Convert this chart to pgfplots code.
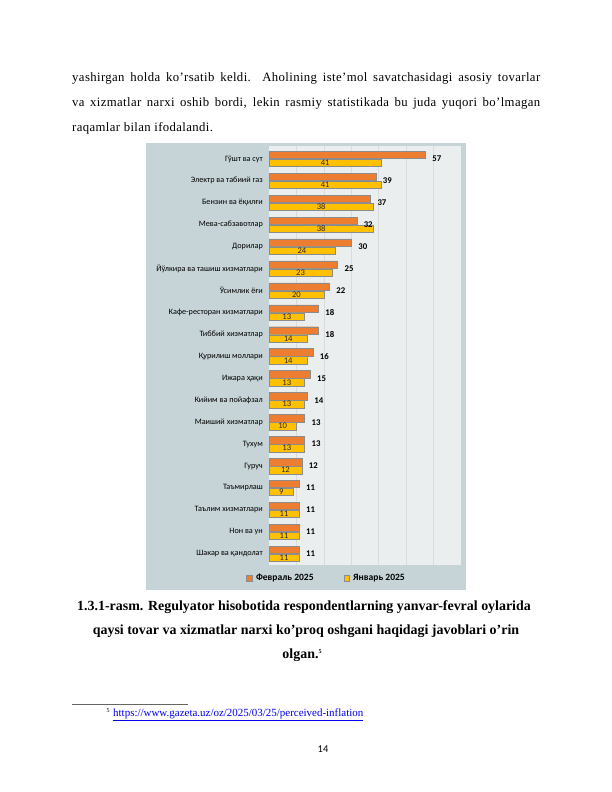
\documentclass[border=0pt]{standalone}
\usepackage{fontspec}
\setmainfont{Liberation Serif}
\newfontfamily\chartfont{Carlito}
\usepackage{pgfplots}
\pgfplotsset{compat=1.18}
\usepackage{pgfplotstable}

\definecolor{febcol}{HTML}{ED7D31}
\definecolor{jancol}{HTML}{FFC000}
\definecolor{framebg}{HTML}{C6D4D7}
\definecolor{plotbg}{HTML}{EBEEEE}
\definecolor{linkblue}{HTML}{0000EE}

% survey answers, percent of respondents
\pgfplotstableread{
idx feb jan
0   57  41
1   39  41
2   37  38
3   32  38
4   30  24
5   25  23
6   22  20
7   18  13
8   18  14
9   16  14
10  15  13
11  14  13
12  13  10
13  13  13
14  12  12
15  11  9
16  11  11
17  11  11
18  11  11
}\pricedata

\pgfplotsset{
  sq legend/.style={legend image code/.code={%
    \draw[##1, line width=0.4bp] (0bp,-2.8bp) rectangle (5.6bp,2.8bp);
    \path (7.2bp,0bp);}},
}

\newcommand\bodyfont{\fontsize{12.8}{14}\selectfont\addfontfeature{LetterSpace=3}}

\begin{document}
\begin{tikzpicture}[x=1bp,y=1bp]
\useasboundingbox (0,0) rectangle (612,792);
\fill[white] (0,0) rectangle (612,792);

% body text above the figure
\node[anchor=base west, inner sep=0, font=\bodyfont] at (72,710.3)
  {\makebox[468bp][s]{yashirgan holda ko’rsatib keldi. Aholining iste’mol savatchasidagi asosiy tovarlar}};
\node[anchor=base west, inner sep=0, font=\bodyfont] at (72,685.3)
  {\makebox[468bp][s]{va xizmatlar narxi oshib bordi, lekin rasmiy statistikada bu juda yuqori bo’lmagan}};
\node[anchor=base west, inner sep=0, font=\bodyfont] at (72,660.5)
  {raqamlar bilan ifodalandi.};

% picture frame
\fill[framebg] (146,202) rectangle (466,648.5);

\begin{axis}[
  at={(269bp,646bp)}, anchor=north west,
  scale only axis, width=192bp, height=419bp,
  xmin=0, xmax=70, ymin=-0.59, ymax=18.51,
  y dir=reverse,
  axis background/.style={fill=plotbg},
  axis line style={draw=none},
  major tick length=0pt,
  xtick={10,20,...,60}, xticklabels={},
  xmajorgrids, grid style={draw=black!14, line width=0.6bp},
  ytick={0,...,18},
  yticklabels={Гўшт ва сут, Электр ва табиий газ, Бензин ва ёқилғи, Мева-сабзавотлар, Дорилар,
    Йўлкира ва ташиш хизматлари, Ўсимлик ёғи, Кафе-ресторан хизматлари, Тиббий хизматлар,
    Қурилиш моллари, Ижара ҳақи, Кийим ва пойафзал, Маиший хизматлар, Тухум, Гуруч,
    Таъмирлаш, Таълим хизматлари, Нон ва ун, Шакар ва қандолат},
  yticklabel style={font=\chartfont\fontsize{8.2}{9}\selectfont, inner sep=0pt, xshift=-6bp},
  /pgf/number format/assume math mode=true,
  legend style={draw=none, fill=none, at={(0.3,-0.031)}, anchor=center,
    legend columns=2, font=\chartfont\bfseries\fontsize{9.6}{10}\selectfont,
    /tikz/every even column/.append style={column sep=28bp}},
]
\addplot[xbar, bar width=7.4bp, bar shift=4bp, fill=febcol, draw=black!45, line width=0.4bp,
  sq legend,
  nodes near coords,
  every node near coord/.append style={anchor=west, xshift=3.5bp, text=black,
    font=\chartfont\bfseries\fontsize{8.8}{9}\selectfont}]
  table[x=feb, y=idx] {\pricedata};
\addlegendentry{Февраль 2025}
\addplot[xbar, bar width=7.4bp, bar shift=-4bp, fill=jancol, draw=black!45, line width=0.4bp,
  sq legend]
  table[x=jan, y=idx] {\pricedata};
\addlegendentry{Январь 2025}
% labels centred on the January bars
\addplot[forget plot, draw=none, mark=none, nodes near coords, point meta=explicit,
  every node near coord/.style={anchor=center, yshift=-4bp, inner sep=0pt, text=black!85,
    font=\chartfont\fontsize{8.6}{9}\selectfont}]
  table[x expr=\thisrow{jan}/2, y=idx, meta=jan] {\pricedata};
\end{axis}

% caption
\node[anchor=base, inner sep=0, font=\bfseries\fontsize{14}{16}\selectfont] at (304,181.3)
  {1.3.1-rasm. Regulyator hisobotida respondentlarning yanvar-fevral oylarida};
\node[anchor=base, inner sep=0, font=\bfseries\fontsize{14}{16}\selectfont] at (306,157)
  {qaysi tovar va xizmatlar narxi ko’proq oshgani haqidagi javoblari o’rin};
\node[anchor=base, inner sep=0, font=\bfseries\fontsize{14}{16}\selectfont] at (302,133.7)
  {olgan.\raisebox{5bp}{\fontsize{6}{7}\selectfont 5}};

% footnote
\draw[black!60, line width=0.5bp] (72,88) -- (188,88);
\node[anchor=base west, inner sep=0, font=\fontsize{6}{7}\selectfont] at (106.5,79) {5};
\node[anchor=base west, inner sep=0, font=\fontsize{11}{12}\selectfont, text=linkblue] at (113,75.3)
  {\underline{https://www.gazeta.uz/oz/2025/03/25/perceived-inflation}};

% page number
\node[anchor=base, inner sep=0, font=\chartfont\fontsize{10.5}{12}\selectfont] at (323,39.7) {14};
\end{tikzpicture}
\end{document}
